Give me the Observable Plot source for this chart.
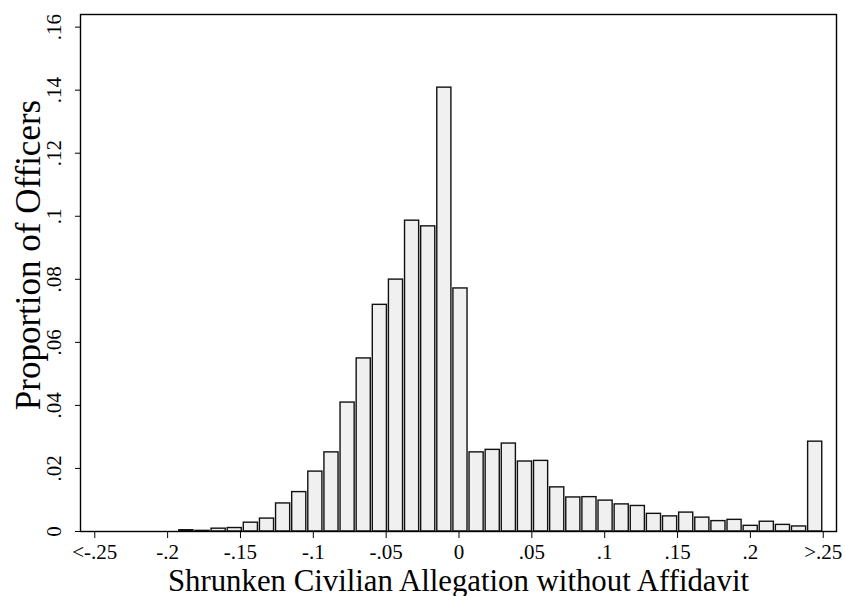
<!DOCTYPE html>
<html><head><meta charset="utf-8">
<script src="https://cdn.jsdelivr.net/npm/d3@7"></script>
<script src="https://cdn.jsdelivr.net/npm/@observablehq/plot@0.6"></script>
<style>body{margin:0;background:#fff;}</style>
</head><body><div id="chart"></div>
<script>
// Histogram bins (45 bins spanning the censored range)
const binStart = -0.248;
const binWidth = 0.498 / 45;
const proportions = [
  0, 0, 0, 0, 0,
  0.0004, 0.0002, 0.0009, 0.0011, 0.0028,
  0.0041, 0.0089, 0.0125, 0.0190, 0.0251,
  0.0409, 0.0549, 0.0719, 0.0799, 0.0986,
  0.0968, 0.1408, 0.0771, 0.0251, 0.0259,
  0.0279, 0.0222, 0.0224, 0.0140, 0.0108,
  0.0109, 0.0098, 0.0086, 0.0081, 0.0056,
  0.0048, 0.0060, 0.0044, 0.0033, 0.0037,
  0.0018, 0.0031, 0.0021, 0.0016, 0.0285
];
const xTicks = [-0.25, -0.2, -0.15, -0.1, -0.05, 0, 0.05, 0.1, 0.15, 0.2, 0.25];
const xTickLabels = ["<-.25", "-.2", "-.15", "-.1", "-.05", "0", ".05", ".1", ".15", ".2", ">.25"];
const yTicks = [0, 0.02, 0.04, 0.06, 0.08, 0.1, 0.12, 0.14, 0.16];
const yTickLabels = ["0", ".02", ".04", ".06", ".08", ".1", ".12", ".14", ".16"];
const xTitle = "Shrunken Civilian Allegation without Affidavit";
const yTitle = "Proportion of Officers";

const bins = proportions.map((p, i) => ({
  x1: binStart + i * binWidth,
  x2: binStart + (i + 1) * binWidth,
  y: p
}));

const chart = Plot.plot({
  width: 845,
  height: 596,
  marginLeft: 80,
  marginRight: 9,
  marginTop: 14,
  marginBottom: 65,
  style: {fontFamily: "'Liberation Serif', 'Times New Roman', serif", background: "#fff", color: "#000", overflow: "visible"},
  x: {domain: [-0.2598, 0.2591]},
  y: {domain: [0, 0.164]},
  marks: [
    Plot.rectY(bins, {x1: "x1", x2: "x2", y: "y", fill: "#f0f0f0", stroke: "#111", strokeWidth: 1.4, insetLeft: 1, insetRight: 1}),
    Plot.frame({stroke: "#000", strokeWidth: 1.4}),
    Plot.axisX(xTicks, {tickSize: 7, tickPadding: 6, tickFormat: d => xTickLabels[xTicks.indexOf(d)], fontSize: 21, label: null}),
    Plot.axisY(yTicks, {tickSize: 5, tickFormat: () => "", label: null}),
    Plot.text(yTicks, {y: d => d, text: (d, i) => yTickLabels[i], frameAnchor: "left", dx: -26, rotate: -90, textAnchor: "middle", lineAnchor: "middle", fontSize: 21}),
    Plot.text([xTitle], {text: d => d, frameAnchor: "bottom", dy: 59, lineAnchor: "bottom", fontSize: 30.8}),
    Plot.text([yTitle], {text: d => d, frameAnchor: "left", dx: -52, dy: -18, rotate: -90, textAnchor: "middle", lineAnchor: "middle", fontSize: 35})
  ]
});
document.getElementById("chart").appendChild(chart);
</script>
</body></html>
